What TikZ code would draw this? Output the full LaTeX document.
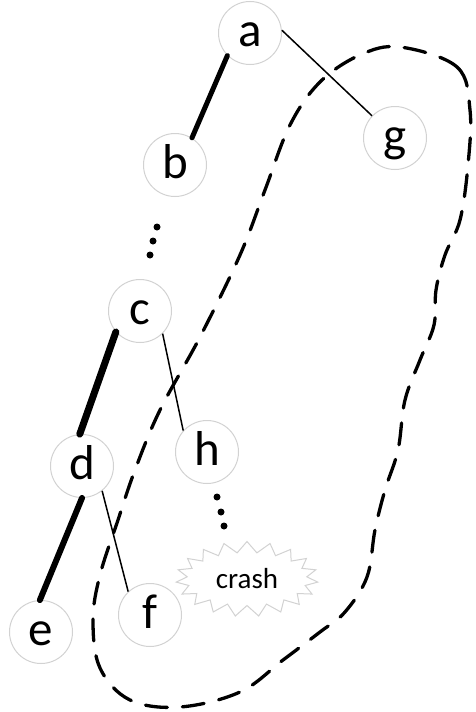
\documentclass[tikz,border=0pt]{standalone}
\usepackage{fontspec}
\setmainfont{Carlito}
\usetikzlibrary{shapes.symbols}
\tikzset{
  vtx/.style={circle, draw=gray!35, line width=1pt, fill=white, minimum size=63pt, inner sep=0pt,
              font=\fontsize{49}{49}\selectfont, text height=27pt, text depth=0pt},
  boldedge/.style={line width=#1, line cap=round},
  thinedge/.style={line width=1.5pt},
  dot/.style={circle, fill=black, inner sep=0pt, minimum size=7pt},
  region/.style={line width=3.3pt, dash pattern=on 22pt off 15pt, line cap=round},
  boom/.style={starburst, draw=gray!35, line width=1pt, fill=white, starburst points=19,
               starburst point height=11pt, random starburst=0, minimum width=142pt, minimum height=75pt,
               inner sep=0pt, font=\fontsize{29}{29}\selectfont}
}
\begin{document}
\begin{tikzpicture}[x=1pt,y=-1pt]
\useasboundingbox (0,0) rectangle (475,712);
% dashed region
\draw[region] plot[smooth cycle, tension=0.6] coordinates {
 (400,47) (457,67) (470,110) (468,165) (460,220) (445,255) (436,290) (434,325) (420,360)
 (405,400) (398,450) (385,490) (375,530) (367,577) (345,612) (320,632) (283,660) (240,692)
 (180,707) (130,700) (100,668) (93,620) (100,575) (118,520) (135,470) (160,410) (200,337)
 (240,255) (265,190) (290,125) (320,82) (360,55)};
% nodes
\node[vtx] (a) at (250,33) {a};
\node[vtx] (g) at (395,138) {g};
\node[vtx] (b) at (175,165) {b};
\node[vtx] (c) at (140,311) {c};
\node[vtx] (h) at (207,452) {h};
\node[vtx] (d) at (82,466) {d};
\node[vtx] (e) at (41,632) {e};
\node[vtx] (f) at (150,615) {f};
\node[boom] (crash) at (247,579) {crash};
% dots
\node[dot] (b1) at (157,227) {};
\node[dot] (b2) at (153,241) {};
\node[dot] (b3) at (150,255) {};
\node[dot] (h1) at (217,497) {};
\node[dot] (h2) at (221,512) {};
\node[dot] (h3) at (224,526) {};
% edges
\draw[boldedge=5pt] (a.225) -- (b.58);
\draw[boldedge=7pt] (c.221) -- (d.94);
\draw[boldedge=6pt] (d.270) -- (e.92);
\draw[thinedge] (a.5) -- (g.136);
\draw[thinedge] (c.315) -- (h.138);
\draw[thinedge] (d.309) -- (f.133);
\end{tikzpicture}
\end{document}
